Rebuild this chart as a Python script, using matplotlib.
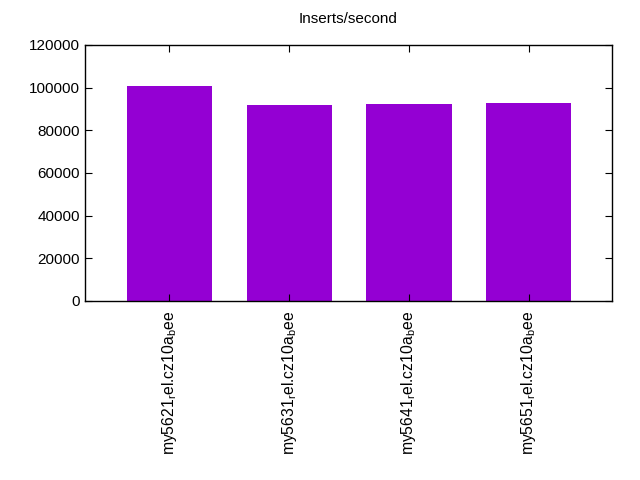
import matplotlib
matplotlib.use("Agg")
import matplotlib.pyplot as plt

# data
servers = ["my5621", "my5631", "my5641", "my5651"]
inserts_per_sec = [100800, 91900, 92300, 92800]
labels = [s + r"$_\mathrm{r}$el.cz10a$_\mathrm{b}$ee" for s in servers]

plt.rcParams["font.family"] = ["Liberation Sans", "DejaVu Sans"]
plt.rcParams["mathtext.fontset"] = "custom"
plt.rcParams["mathtext.rm"] = "Liberation Sans"

fig = plt.figure(figsize=(6.4, 4.8), dpi=100)
ax = fig.add_axes([85 / 640, 1 - 301 / 480, (612 - 85) / 640, (301 - 45) / 480])

x = range(len(servers))
ax.bar(x, inserts_per_sec, width=0.71, color="#9400d3")

ax.set_xlim(-0.705, 3.695)
ax.set_ylim(0, 120000)
ax.set_yticks(range(0, 120001, 20000))
ax.set_xticks(list(x))
ax.set_xticklabels(labels, rotation=90, fontsize=11.3)
ax.tick_params(axis="y", labelsize=11, direction="in", right=True, length=5)
ax.tick_params(axis="x", direction="in", top=True, length=5, pad=7)
for sp in ax.spines.values():
    sp.set_linewidth(1.0)

fig.suptitle("Inserts/second", x=348.5 / 640, y=1 - 12 / 480, fontsize=11)

fig.savefig("out.png", dpi=100)
